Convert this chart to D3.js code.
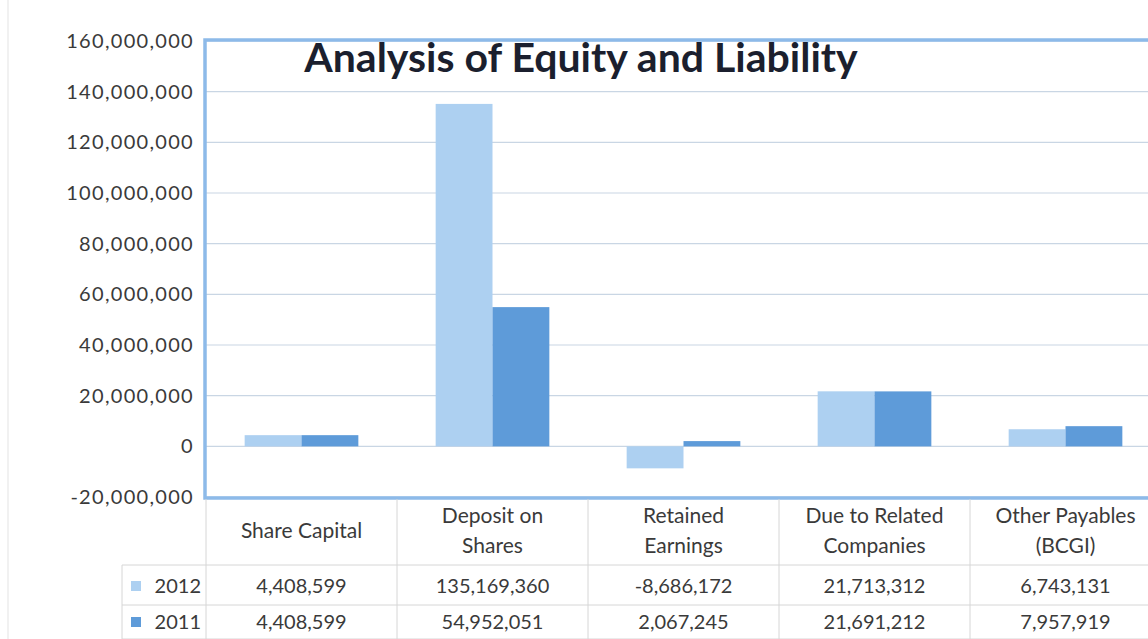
<!DOCTYPE html>
<html>
<head>
<meta charset="utf-8">
<script src="https://cdnjs.cloudflare.com/ajax/libs/d3/7.8.5/d3.min.js"></script>
<style>
  body { margin: 0; background: #fff; font-family: Lato, "Open Sans", sans-serif; }
  .tick text { fill: #3a3a3a; }
</style>
</head>
<body>
<script>
// data
var categories = ["Share Capital", "Deposit on Shares", "Retained Earnings", "Due to Related Companies", "Other Payables (BCGI)"];
var catLines = [["Share Capital"], ["Deposit on", "Shares"], ["Retained", "Earnings"], ["Due to Related", "Companies"], ["Other Payables", "(BCGI)"]];
var years = ["2012", "2011"];
var values2012 = [4408599, 135169360, -8686172, 21713312, 6743131];
var values2011 = [4408599, 54952051, 2067245, 21691212, 7957919];
var yTicks = [-20000000, 0, 20000000, 40000000, 60000000, 80000000, 100000000, 120000000, 140000000, 160000000];

var colors = { "2012": "#add0f1", "2011": "#5e9bd9" };
var series = { "2012": values2012, "2011": values2011 };

var W = 1148, H = 639;
var m = { left: 206, right: 1161, top: 40, bottom: 497 };

var svg = d3.select("body").append("svg").attr("width", W).attr("height", H);

// faint scan edge on the left
svg.append("line").attr("x1", 8).attr("x2", 8).attr("y1", 0).attr("y2", H)
  .attr("stroke", "#ececec").attr("stroke-width", 1.5);

var x = d3.scaleBand().domain(categories).range([m.left, m.right]);
var x1 = d3.scaleBand().domain(years).range([0, x.bandwidth()]).paddingOuter(0.68);
var y = d3.scaleLinear().domain([-20000000, 160000000]).range([m.bottom, m.top + 1]);

// plain hyphen for negatives, like the original
var fmt = function(v) { return d3.format(",.0f")(v).replace("\u2212", "-"); };

// gridlines
svg.append("g").selectAll("line").data(yTicks).enter().append("line")
  .attr("x1", m.left).attr("x2", m.right)
  .attr("y1", d => y(d)).attr("y2", d => y(d))
  .attr("stroke", "#c9d6e4").attr("stroke-width", 1.2);

// y axis
var yAxis = d3.axisLeft(y).tickValues(yTicks).tickSize(0).tickPadding(9).tickFormat(fmt);
var ga = svg.append("g").attr("transform", "translate(" + (m.left - 3) + ",0)").call(yAxis);
ga.select(".domain").remove();
ga.selectAll("text").style("font-size", "20px").style("letter-spacing", "1.3px")
  .style("font-family", "Lato, sans-serif");

// bars
years.forEach(function(yr) {
  svg.append("g").selectAll("rect").data(categories).enter().append("rect")
    .attr("x", (d) => x(d) + x1(yr))
    .attr("width", x1.bandwidth())
    .attr("y", (d, i) => y(Math.max(0, series[yr][i])))
    .attr("height", (d, i) => Math.abs(y(series[yr][i]) - y(0)))
    .attr("fill", colors[yr]);
});

// plot border
svg.append("rect")
  .attr("x", m.left - 1).attr("y", m.top).attr("width", m.right - m.left + 1).attr("height", m.bottom - m.top + 1)
  .attr("fill", "none").attr("stroke", "#8dbae9").attr("stroke-width", 3.5);

// title
svg.append("text").attr("x", 581).attr("y", 72).attr("text-anchor", "middle")
  .style("font-size", "41px").style("font-weight", "bold").attr("fill", "#1b1f2e")
  .text("Analysis of Equity and Liability");

// data table
var tableLine = "#d6d6d6";
var rowY = [565, 605, 639];
var tbl = svg.append("g");
tbl.selectAll("line.v").data(categories).enter().append("line")
  .attr("x1", d => x(d) + x.bandwidth()).attr("x2", d => x(d) + x.bandwidth())
  .attr("y1", m.bottom + 2).attr("y2", H).attr("stroke", tableLine);
tbl.append("line").attr("x1", m.left).attr("x2", m.left).attr("y1", m.bottom + 2).attr("y2", H).attr("stroke", tableLine);
tbl.append("line").attr("x1", 122).attr("x2", 122).attr("y1", rowY[0]).attr("y2", H).attr("stroke", tableLine);
rowY.forEach(function(ry) {
  tbl.append("line").attr("x1", 122).attr("x2", m.right).attr("y1", ry).attr("y2", ry).attr("stroke", tableLine);
});

// category labels
categories.forEach(function(c, i) {
  var lines = catLines[i];
  var cx = x(c) + x.bandwidth() / 2;
  var t = tbl.append("text").attr("text-anchor", "middle").attr("x", cx)
    .style("font-size", "21px").attr("fill", "#3a3a3a");
  var y0 = lines.length === 1 ? 538 : 523;
  lines.forEach(function(l, k) {
    t.append("tspan").attr("x", cx).attr("y", y0 + k * 30).text(l);
  });
});

// rows
var rowBase = [593, 629];
years.forEach(function(yr, r) {
  var cy = rowBase[r];
  tbl.append("rect").attr("x", 131).attr("y", cy - 12).attr("width", 10).attr("height", 10).attr("fill", colors[yr]);
  tbl.append("text").attr("x", 201).attr("y", cy).attr("text-anchor", "end")
    .style("font-size", "20px").attr("fill", "#3a3a3a").text(yr);
  categories.forEach(function(c, i) {
    tbl.append("text").attr("x", x(c) + x.bandwidth() / 2).attr("y", cy).attr("text-anchor", "middle")
      .style("font-size", "20px").attr("fill", "#3a3a3a").text(fmt(series[yr][i]));
  });
});
</script>
</body>
</html>
